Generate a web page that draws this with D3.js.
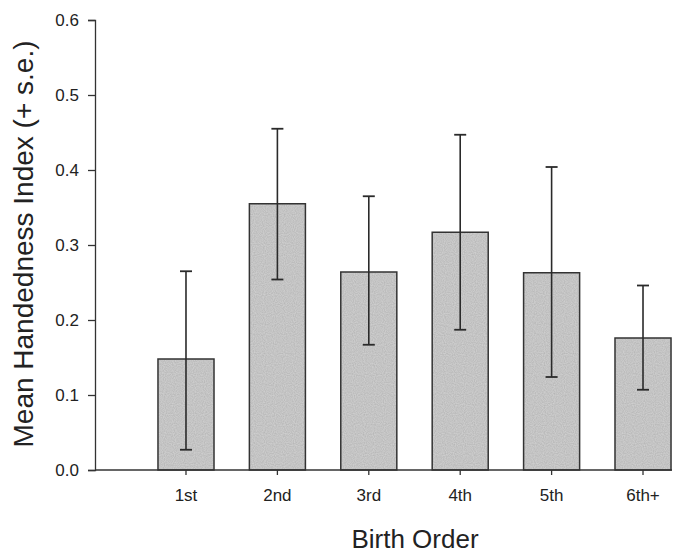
<!DOCTYPE html>
<html>
<head>
<meta charset="utf-8">
<script src="https://cdn.jsdelivr.net/npm/d3@7"></script>
<style>
  body { margin: 0; background: #fff; }
  text { font-family: "Liberation Sans", Arial, sans-serif; fill: #222; }
</style>
</head>
<body>
<div id="chart"></div>
<script>
var categories = ["1st", "2nd", "3rd", "4th", "5th", "6th+"];
var means = [0.148, 0.355, 0.264, 0.317, 0.263, 0.176];
var upper = [0.265, 0.455, 0.365, 0.447, 0.404, 0.246];
var lower = [0.027, 0.254, 0.167, 0.187, 0.124, 0.107];
var yTicks = [0, 0.1, 0.2, 0.3, 0.4, 0.5, 0.6];

var width = 686, height = 559;

var svg = d3
  .select("#chart")
  .append("svg")
  .attr("width", width)
  .attr("height", height);

// speckled grey like the printed bars
var defs = svg.append("defs");
var f = defs.append("filter").attr("id", "speckle").attr("x", 0).attr("y", 0).attr("width", 1).attr("height", 1);
f.append("feTurbulence").attr("type", "fractalNoise").attr("baseFrequency", 0.9).attr("numOctaves", 1).attr("seed", 3).attr("result", "noise");
f.append("feColorMatrix").attr("in", "noise").attr("type", "matrix")
  .attr("values", "0 0 0 0 0  0 0 0 0 0  0 0 0 0 0  0 0 0 0.35 0").attr("result", "dots");
f.append("feComposite").attr("in", "dots").attr("in2", "SourceGraphic").attr("operator", "in").attr("result", "dotsIn");
f.append("feMerge").selectAll("feMergeNode").data(["SourceGraphic", "dotsIn"]).enter()
  .append("feMergeNode").attr("in", function (d) { return d; });

var x = d3
  .scaleBand()
  .domain(categories)
  .range([95, 734])
  .paddingInner(0.387)
  .paddingOuter(0.689);

var y = d3.scaleLinear().domain([0, 0.6]).range([470, 20]);

var data = categories.map(function (c, i) {
  return { cat: c, mean: means[i], hi: upper[i], lo: lower[i] };
});

// bars
svg
  .selectAll("rect.bar")
  .data(data)
  .enter()
  .append("rect")
  .attr("class", "bar")
  .attr("x", function (d) { return x(d.cat); })
  .attr("y", function (d) { return y(d.mean); })
  .attr("width", x.bandwidth())
  .attr("height", function (d) { return y(0) - y(d.mean); })
  .style("fill", "#d6d6d6")
  .attr("filter", "url(#speckle)");

svg
  .selectAll("rect.outline")
  .data(data)
  .enter()
  .append("rect")
  .attr("class", "outline")
  .attr("x", function (d) { return x(d.cat); })
  .attr("y", function (d) { return y(d.mean); })
  .attr("width", x.bandwidth())
  .attr("height", function (d) { return y(0) - y(d.mean); })
  .style("fill", "none")
  .style("stroke", "#333")
  .style("stroke-width", 1.5);

// error bars
var eb = svg.selectAll("g.err").data(data).enter().append("g").attr("class", "err");
eb.append("line")
  .attr("x1", function (d) { return x(d.cat) + x.bandwidth() / 2; })
  .attr("x2", function (d) { return x(d.cat) + x.bandwidth() / 2; })
  .attr("y1", function (d) { return y(d.lo); })
  .attr("y2", function (d) { return y(d.hi); })
  .style("stroke", "#2a2a2a")
  .style("stroke-width", 1.6);
[ "hi", "lo" ].forEach(function (k) {
  eb.append("line")
    .attr("x1", function (d) { return x(d.cat) + x.bandwidth() / 2 - 6; })
    .attr("x2", function (d) { return x(d.cat) + x.bandwidth() / 2 + 6; })
    .attr("y1", function (d) { return y(d[k]); })
    .attr("y2", function (d) { return y(d[k]); })
    .style("stroke", "#2a2a2a")
    .style("stroke-width", 1.8);
});

// y axis
var yAxis = d3.axisLeft(y).tickValues(yTicks).tickFormat(d3.format(".1f")).tickSizeOuter(0).tickSize(7).tickPadding(9);
var gy = svg.append("g").attr("transform", "translate(95,0)").call(yAxis);
gy.selectAll("text").style("font-size", "17px");
gy.selectAll("line, path").style("stroke", "#333").style("stroke-width", 1.3);

// x axis
var xAxis = d3.axisBottom(x).tickSize(5).tickSizeOuter(0).tickPadding(14);
var gx = svg.append("g").attr("transform", "translate(0,470)").call(xAxis);
gx.select(".domain").remove();
gx.selectAll("text").style("font-size", "17px");
gx.selectAll("line").style("stroke", "#333").style("stroke-width", 1.3);
var last = categories[categories.length - 1];
gx.append("line")
  .attr("x1", 95)
  .attr("x2", x(last) + x.bandwidth() + 1)
  .attr("y1", 0)
  .attr("y2", 0)
  .style("stroke", "#333")
  .style("stroke-width", 1.5);

// titles
svg.append("text")
  .attr("x", 415)
  .attr("y", 548)
  .attr("text-anchor", "middle")
  .style("font-size", "26px")
  .text("Birth Order");

svg.append("text")
  .attr("transform", "translate(33,244) rotate(-90)")
  .attr("text-anchor", "middle")
  .style("font-size", "28px")
  .text("Mean Handedness Index (+ s.e.)");
</script>
</body>
</html>
